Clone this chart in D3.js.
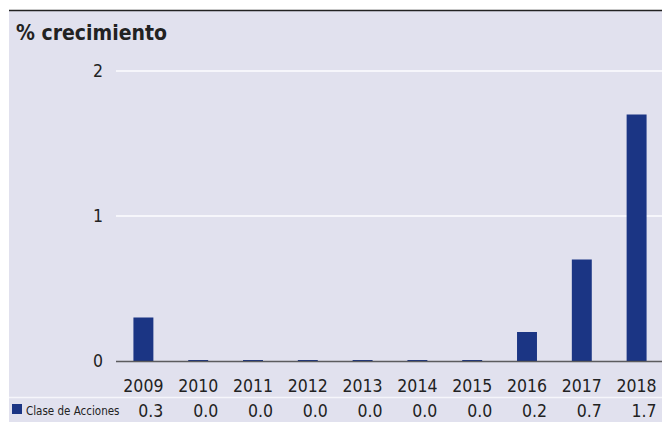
<!DOCTYPE html>
<html>
<head>
<meta charset="utf-8">
<script src="https://cdn.jsdelivr.net/npm/d3@7"></script>
<style>
  body { margin: 0; background: #fff; }
  text { font-family: "DejaVu Sans Condensed", "DejaVu Sans", sans-serif; font-stretch: condensed; fill: #222; }
</style>
</head>
<body>
<svg width="662" height="427"></svg>
<script>
var years = ["2009", "2010", "2011", "2012", "2013", "2014", "2015", "2016", "2017", "2018"];
var values = [0.3, 0.0, 0.0, 0.0, 0.0, 0.0, 0.0, 0.2, 0.7, 1.7];
var yTicks = [0, 1, 2];
var seriesName = "Clase de Acciones";
var title = "% crecimiento";

var barColor = "#1b3584";

var svg = d3.select("svg");

// panel background
svg.append("rect")
    .attr("x", 9).attr("y", 10)
    .attr("width", 653).attr("height", 412)
    .attr("fill", "#e1e1ee");

svg.append("line")
    .attr("x1", 9).attr("x2", 662)
    .attr("y1", 10.5).attr("y2", 10.5)
    .attr("stroke", "#222").attr("stroke-width", 1.6);

svg.append("text")
    .attr("x", 16).attr("y", 40)
    .style("font-size", "21px")
    .style("font-weight", "bold")
    .text(title);

var x = d3.scaleBand().domain(years).range([116, 664])
    .paddingInner(0.636).paddingOuter(0.318);
var y = d3.scaleLinear().domain([0, 2]).range([361, 71]);

// grid
svg.append("g")
    .selectAll("line")
    .data(yTicks.filter(function(d) { return d > 0; }))
    .enter().append("line")
    .attr("x1", 116).attr("x2", 662)
    .attr("y1", function(d) { return y(d); })
    .attr("y2", function(d) { return y(d); })
    .attr("stroke", "#f6f6fb").attr("stroke-width", 2);

// y tick labels
svg.append("g")
    .selectAll("text")
    .data(yTicks)
    .enter().append("text")
    .attr("x", 103)
    .attr("y", function(d) { return y(d) + 6; })
    .attr("text-anchor", "end")
    .style("font-size", "17.5px")
    .text(function(d) { return d; });

// bars
svg.append("g")
    .selectAll("rect")
    .data(values)
    .enter().append("rect")
    .attr("x", function(d, i) { return x(years[i]); })
    .attr("width", x.bandwidth())
    .attr("y", function(d) { return Math.min(y(d), y(0) - 1); })
    .attr("height", function(d) { return Math.max(y(0) - y(d), 1); })
    .attr("fill", barColor);

// zero line
svg.append("line")
    .attr("x1", 116).attr("x2", 662)
    .attr("y1", y(0) + 0.5).attr("y2", y(0) + 0.5)
    .attr("stroke", "#444").attr("stroke-width", 1.5)
    .attr("stroke-opacity", 0.85);

// year labels
svg.append("g")
    .selectAll("text")
    .data(years)
    .enter().append("text")
    .attr("x", function(d) { return x(d) + x.bandwidth() / 2; })
    .attr("y", 392)
    .attr("text-anchor", "middle")
    .style("font-size", "17.5px")
    .text(function(d) { return d; });

// table separator
svg.append("line")
    .attr("x1", 9).attr("x2", 662)
    .attr("y1", 397.5).attr("y2", 397.5)
    .attr("stroke", "#f6f6fb").attr("stroke-width", 1.5);

// legend
svg.append("rect")
    .attr("x", 12).attr("y", 404)
    .attr("width", 10).attr("height", 10)
    .attr("fill", barColor);

svg.append("text")
    .attr("x", 26).attr("y", 415)
    .style("font-size", "11.5px")
    .text(seriesName);

// value row
svg.append("g")
    .selectAll("text")
    .data(values)
    .enter().append("text")
    .attr("x", function(d, i) { return x(years[i]) + x.bandwidth() / 2 + 20; })
    .attr("y", 417)
    .attr("text-anchor", "end")
    .style("font-size", "17.5px")
    .text(function(d) { return d.toFixed(1); });
</script>
</body>
</html>
